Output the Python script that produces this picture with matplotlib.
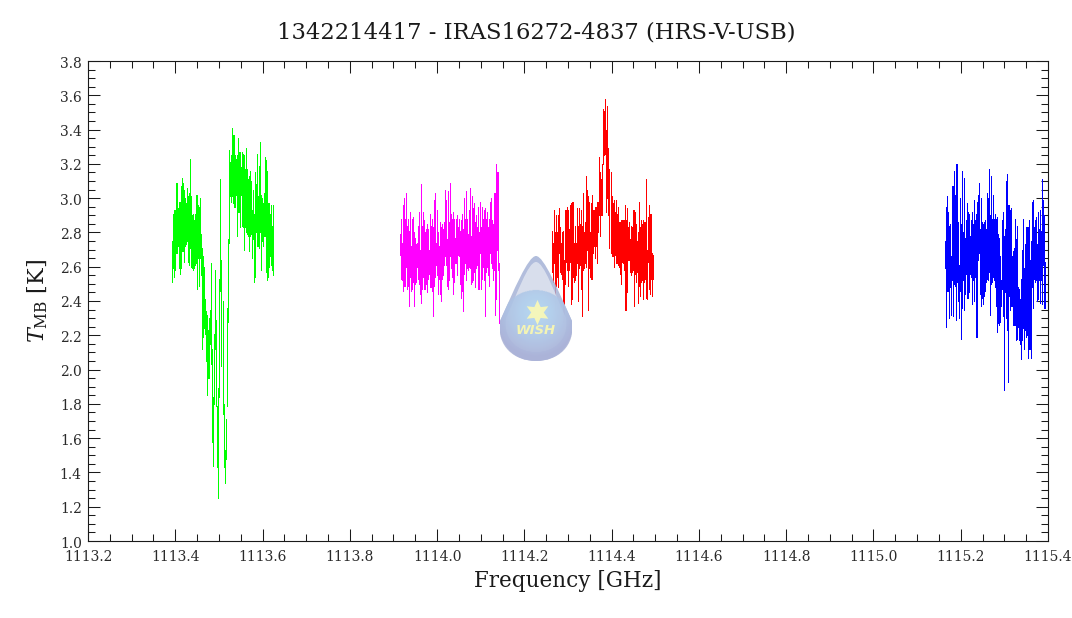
import numpy as np
import matplotlib
matplotlib.use('Agg')
import matplotlib.pyplot as plt
from matplotlib.path import Path
from matplotlib.patches import PathPatch
from matplotlib.ticker import MultipleLocator, FormatStrFormatter
from matplotlib.transforms import ScaledTranslation

plt.rcParams['font.family'] = ['DejaVu Serif']
plt.rcParams['mathtext.fontset'] = 'dejavuserif'

title = '1342214417 - IRAS16272-4837 (HRS-V-USB)'

# band edges in GHz, one spectral column per screen pixel
green_range = (1113.3925, 1113.624)
magenta_range = (1113.914, 1114.143)
red_range = (1114.264, 1114.494)
blue_range = (1115.163, 1115.392)

green_hi = [2.75, 2.91, 2.93, 2.93, 3.09, 3.09, 2.94, 2.98, 2.98, 3.07, 3.12, 3.09, 3.05, 3.00, 2.97, 3.06, 3.01, 3.03, 3.23, 3.01,
            2.90, 2.91, 2.87, 2.91, 3.02, 3.02, 2.96, 2.95, 3.00, 2.79, 2.71, 2.66, 2.60, 2.41, 2.34, 2.32, 2.23, 2.30, 2.35, 2.62,
            2.12, 1.84, 2.21, 2.58, 2.29, 1.79, 1.89, 2.53, 3.11, 2.64, 2.40, 1.80, 1.53, 1.71, 2.36, 2.76, 3.28, 3.21, 3.25, 3.41,
            3.37, 3.37, 3.25, 3.23, 3.25, 3.35, 3.27, 3.27, 3.18, 3.27, 3.26, 3.25, 3.17, 3.29, 3.17, 3.11, 3.13, 3.16, 3.10, 2.93,
            3.05, 2.91, 3.15, 3.08, 3.26, 3.01, 3.19, 3.33, 3.02, 3.00, 2.97, 3.03, 3.24, 3.22, 3.16, 2.97, 2.97, 2.91, 2.96, 2.84, 2.96]
green_lo = [2.51, 2.59, 2.54, 2.58, 2.68, 2.68, 2.72, 2.59, 2.56, 2.59, 2.69, 2.69, 2.63, 2.72, 2.73, 2.75, 2.63, 2.61, 2.71, 2.60,
            2.59, 2.58, 2.59, 2.61, 2.62, 2.47, 2.65, 2.49, 2.65, 2.55, 2.12, 2.19, 2.24, 2.21, 2.05, 1.85, 1.95, 1.95, 2.15, 2.03,
            1.58, 1.44, 1.80, 2.12, 1.79, 1.43, 1.25, 1.84, 2.46, 2.02, 1.74, 1.43, 1.34, 1.48, 1.79, 2.28, 2.74, 3.01, 2.98, 3.01,
            2.97, 2.95, 2.95, 3.02, 2.78, 2.92, 2.92, 2.83, 3.02, 2.84, 2.83, 2.70, 2.83, 2.80, 2.79, 2.78, 2.69, 2.78, 2.79, 2.65,
            2.76, 2.51, 2.54, 2.80, 2.72, 2.72, 2.71, 2.80, 2.58, 2.75, 2.72, 2.78, 2.78, 2.57, 2.52, 2.54, 2.60, 2.66, 2.61, 2.58, 2.55]

magenta_hi = [2.79, 2.88, 2.74, 2.96, 3.00, 2.88, 3.03, 2.84, 2.88, 2.81, 2.92, 2.72, 2.88, 2.89, 2.80, 2.77, 2.73, 2.74, 2.84, 2.92,
              2.70, 3.08, 2.84, 2.92, 2.87, 2.80, 2.82, 2.85, 2.82, 2.70, 2.91, 2.84, 2.88, 2.83, 2.99, 3.03, 2.74, 2.93, 2.80, 2.72,
              2.86, 2.83, 2.85, 2.82, 2.86, 3.05, 2.99, 2.76, 3.04, 2.86, 3.09, 2.91, 2.88, 2.92, 2.88, 2.77, 2.88, 2.90, 2.83, 2.88,
              2.81, 2.87, 2.91, 2.82, 3.00, 2.88, 3.04, 2.88, 2.79, 2.93, 3.06, 2.78, 3.01, 2.94, 2.97, 2.86, 2.90, 2.83, 2.95, 2.80,
              2.98, 2.83, 2.95, 2.88, 2.93, 2.94, 2.88, 2.92, 2.83, 2.88, 2.98, 3.00, 2.87, 2.85, 3.03, 3.03, 3.20, 3.15, 3.15, 2.62]
magenta_lo = [2.67, 2.53, 2.52, 2.46, 2.49, 2.49, 2.60, 2.47, 2.49, 2.37, 2.54, 2.46, 2.47, 2.51, 2.37, 2.50, 2.51, 2.60, 2.53, 2.50,
              2.44, 2.39, 2.47, 2.54, 2.47, 2.47, 2.50, 2.45, 2.53, 2.56, 2.48, 2.48, 2.46, 2.31, 2.49, 2.54, 2.61, 2.55, 2.44, 2.53,
              2.44, 2.40, 2.53, 2.55, 2.61, 2.66, 2.61, 2.49, 2.47, 2.52, 2.66, 2.59, 2.54, 2.44, 2.51, 2.62, 2.62, 2.55, 2.67, 2.66,
              2.50, 2.42, 2.46, 2.34, 2.56, 2.62, 2.52, 2.59, 2.58, 2.60, 2.59, 2.50, 2.51, 2.52, 2.57, 2.48, 2.59, 2.61, 2.47, 2.47,
              2.68, 2.47, 2.53, 2.60, 2.52, 2.31, 2.57, 2.60, 2.55, 2.49, 2.68, 2.62, 2.59, 2.52, 2.58, 2.32, 2.41, 2.70, 2.58, 2.27]

red_hi = [2.81, 2.74, 2.93, 2.80, 2.90, 2.80, 2.90, 2.94, 2.83, 2.74, 2.80, 2.81, 2.64, 2.93, 2.93, 2.95, 2.93, 2.82, 2.96, 2.97,
          2.98, 2.98, 2.74, 2.84, 2.74, 2.94, 2.84, 2.94, 2.85, 2.93, 2.84, 3.03, 2.80, 2.86, 3.13, 3.05, 3.01, 2.98, 2.80, 2.97,
          3.02, 2.93, 2.93, 2.95, 2.95, 2.98, 2.98, 3.24, 3.15, 3.11, 3.20, 3.52, 3.51, 3.58, 3.40, 3.54, 3.29, 3.17, 3.15, 3.01,
          2.97, 2.99, 2.92, 2.99, 2.91, 2.95, 2.86, 2.86, 2.87, 2.87, 2.87, 2.87, 2.96, 2.87, 2.94, 2.83, 2.86, 2.76, 2.84, 2.83,
          2.93, 2.93, 2.92, 2.85, 2.75, 2.80, 2.98, 2.83, 2.87, 2.85, 2.87, 2.86, 2.86, 3.11, 2.70, 2.89, 2.96, 2.91, 2.91, 2.68, 2.67]
red_lo = [2.57, 2.51, 2.62, 2.35, 2.49, 2.54, 2.48, 2.68, 2.57, 2.56, 2.53, 2.28, 2.28, 2.50, 2.63, 2.58, 2.49, 2.58, 2.63, 2.38,
          2.41, 2.54, 2.51, 2.52, 2.55, 2.62, 2.40, 2.59, 2.61, 2.47, 2.31, 2.58, 2.59, 2.62, 2.60, 2.70, 2.35, 2.59, 2.54, 2.53,
          2.53, 2.68, 2.72, 2.65, 2.72, 2.62, 2.80, 2.90, 2.78, 2.90, 2.90, 3.20, 3.25, 3.26, 2.92, 3.00, 2.90, 2.71, 2.68, 2.66,
          2.66, 2.60, 2.67, 2.62, 2.62, 2.61, 2.60, 2.56, 2.50, 2.63, 2.62, 2.58, 2.35, 2.35, 2.45, 2.64, 2.64, 2.57, 2.55, 2.57,
          2.58, 2.37, 2.56, 2.51, 2.57, 2.39, 2.49, 2.43, 2.51, 2.52, 2.41, 2.51, 2.53, 2.42, 2.41, 2.63, 2.47, 2.44, 2.53, 2.43, 2.53]

blue_hi = [2.75, 2.95, 3.01, 2.92, 2.84, 2.85, 2.66, 3.07, 3.07, 3.16, 3.02, 3.20, 3.20, 2.86, 2.61, 3.00, 2.85, 3.16, 2.80, 3.12,
           2.77, 2.87, 2.97, 2.92, 2.91, 2.78, 2.87, 2.92, 2.85, 2.99, 2.87, 2.91, 2.98, 3.02, 3.09, 2.82, 3.00, 2.86, 2.85, 2.86,
           2.87, 2.82, 3.03, 3.00, 3.17, 2.90, 3.13, 2.88, 3.02, 2.88, 2.91, 2.88, 2.89, 2.79, 2.77, 2.66, 2.52, 2.87, 2.92, 2.78,
           2.82, 3.10, 3.14, 2.96, 2.96, 2.93, 2.94, 2.66, 2.69, 2.71, 2.88, 2.76, 2.84, 2.48, 2.47, 2.41, 2.53, 2.70, 2.88, 2.59,
           2.73, 2.83, 2.83, 2.83, 2.87, 2.64, 2.75, 2.98, 2.99, 2.83, 2.87, 2.89, 2.73, 2.92, 2.82, 2.93, 2.81, 3.11, 2.99, 2.90, 2.63]
blue_lo = [2.59, 2.25, 2.46, 2.46, 2.30, 2.48, 2.32, 2.52, 2.31, 2.50, 2.49, 2.29, 2.51, 2.40, 2.30, 2.46, 2.18, 2.36, 2.52, 2.35,
           2.44, 2.56, 2.42, 2.42, 2.45, 2.56, 2.54, 2.38, 2.52, 2.40, 2.54, 2.19, 2.19, 2.64, 2.68, 2.44, 2.37, 2.42, 2.38, 2.43,
           2.46, 2.51, 2.53, 2.52, 2.57, 2.32, 2.50, 2.51, 2.54, 2.52, 2.48, 2.37, 2.22, 2.27, 2.26, 2.28, 2.37, 2.47, 2.31, 1.88,
           2.45, 2.30, 2.23, 1.93, 2.43, 2.35, 2.37, 2.37, 2.26, 2.26, 2.26, 2.17, 2.18, 2.25, 2.17, 2.15, 2.06, 2.17, 2.24, 2.12,
           2.23, 2.19, 2.20, 2.07, 2.12, 2.12, 2.07, 2.48, 2.36, 2.53, 2.51, 2.52, 2.40, 2.41, 2.52, 2.39, 2.52, 2.38, 2.61, 2.36, 2.36]

W, H = 1072, 618
fig = plt.figure(figsize=(W / 100, H / 100), dpi=100, facecolor='white')
ax = fig.add_axes([88 / W, 1 - 541 / H, 960 / W, 480 / H])

bands = [(green_range, green_hi, green_lo, '#00ff00'),
         (magenta_range, magenta_hi, magenta_lo, '#ff00ff'),
         (red_range, red_hi, red_lo, '#ff0000'),
         (blue_range, blue_hi, blue_lo, '#0000ff')]
for rng, hi, lo, col in bands:
    freq = np.linspace(rng[0], rng[1], len(hi))
    ax.vlines(freq, lo, hi, colors=col, linewidth=0.72, antialiased=False, snap=True, capstyle='butt')

ax.set_xlim(1113.2, 1115.4)
ax.set_ylim(1.0, 3.8)
ax.xaxis.set_major_locator(MultipleLocator(0.2))
ax.xaxis.set_minor_locator(MultipleLocator(0.05))
ax.yaxis.set_major_locator(MultipleLocator(0.2))
ax.yaxis.set_minor_locator(MultipleLocator(0.05))
ax.xaxis.set_major_formatter(FormatStrFormatter('%.1f'))
ax.yaxis.set_major_formatter(FormatStrFormatter('%.1f'))
ink = '#1a1a1a'
ax.tick_params(which='major', direction='in', top=True, right=True, length=8.6, width=0.75,
               color=ink, labelcolor='#2a2a2a', labelsize=10)
ax.tick_params(axis='x', which='major', pad=6.5)
ax.tick_params(axis='y', which='major', pad=4.5)
ax.tick_params(which='minor', direction='in', top=True, right=True, length=5, width=0.75, color=ink)
for s in ax.spines.values():
    s.set_linewidth(0.8)
    s.set_color(ink)
for lab in ax.get_yticklabels():
    lab.set_transform(lab.get_transform() + ScaledTranslation(0, -1 / 100, fig.dpi_scale_trans))

fig.text(536 / W, 1 - 32 / H, title, ha='center', va='center', fontsize=16.3, color=ink)
fig.text(567.5 / W, 1 - 581 / H, 'Frequency [GHz]', ha='center', va='center', fontsize=15.5, color=ink)
fig.text(38 / W, 1 - 301 / H, r'$T_{\mathrm{MB}}$ [K]', rotation=90, ha='center', va='center', fontsize=16, color=ink)

# WISH teardrop logo, laid over the plot in pixel coordinates
lx0, lx1, ly0, ly1 = 500, 572, 256, 361
logo = fig.add_axes([lx0 / W, 1 - ly1 / H, (lx1 - lx0) / W, (ly1 - ly0) / H])
logo.axis('off')
logo.patch.set_alpha(0)


def drop(cx, top, bot, hw):
    mid = bot - hw
    return Path([(cx, top), (cx + 8, top), (cx + hw * 0.62, mid - hw * 0.95), (cx + hw, mid - 4),
                 (cx + hw * 1.1, mid + hw * 0.6), (cx + hw * 0.6, bot), (cx, bot),
                 (cx - hw * 0.6, bot), (cx - hw * 1.1, mid + hw * 0.6), (cx - hw, mid - 4),
                 (cx - hw * 0.62, mid - hw * 0.95), (cx - 8, top), (cx, top)],
                [Path.MOVETO] + [Path.CURVE4] * 12)


yy, xx = np.mgrid[ly0:ly1:210j, lx0:lx1:144j]
outer = np.zeros(xx.shape + (4,))
t = (yy - ly0) / (ly1 - ly0)
outer[..., 0] = 0.64 + 0.04 * t
outer[..., 1] = 0.70 + 0.01 * t
outer[..., 2] = 0.84
outer[..., 3] = 0.85
im = logo.imshow(outer, extent=(lx0, lx1, ly1, ly0), aspect='auto', zorder=1)
im.set_clip_path(PathPatch(drop(536, 256, 361, 36), transform=logo.transData))

logo.add_patch(PathPatch(drop(536, 262, 352, 30), fc='#dfe4f0', ec='none', alpha=0.85, zorder=2))

r = np.hypot(xx - 536, (yy - 312) * 0.95)
ball = np.zeros(xx.shape + (4,))
w = np.clip(r / 42, 0, 1) ** 1.4
ball[..., 0] = 0.69 * (1 - w) + 0.67 * w
ball[..., 1] = 0.84 * (1 - w) + 0.70 * w
ball[..., 2] = 0.95 * (1 - w) + 0.85 * w
ball[..., 3] = (np.hypot((xx - 536) * 0.98, yy - 326) < 36) * 0.88
bl = logo.imshow(ball, extent=(lx0, lx1, ly1, ly0), aspect='auto', zorder=3)
bl.set_clip_path(PathPatch(drop(536, 256, 361, 36), transform=logo.transData))

logo.plot([537], [312], marker=(6, 1, 0), ms=18, color='#f8f8b8', mec='none', alpha=0.95, zorder=4)
logo.text(536, 331, 'WISH', ha='center', va='center', color='#f4f4b4', fontsize=9.5,
          fontweight='bold', style='italic', family=['DejaVu Sans'], zorder=4)
logo.set_xlim(lx0, lx1)
logo.set_ylim(ly1, ly0)

fig.savefig('out.png', dpi=100)
